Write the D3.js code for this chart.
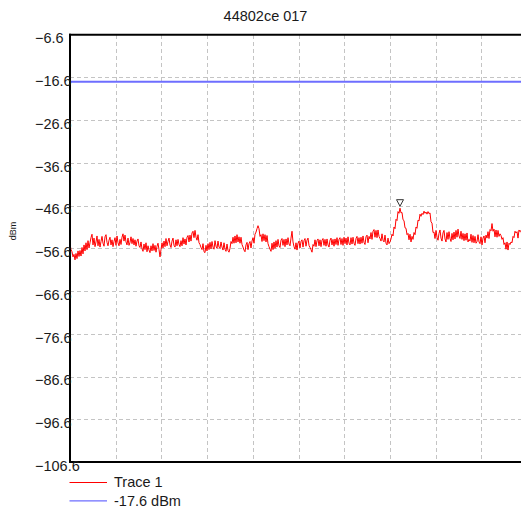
<!DOCTYPE html>
<html>
<head>
<meta charset="utf-8">
<script src="https://cdn.jsdelivr.net/npm/d3@7"></script>
<style>
  html, body { margin: 0; padding: 0; background: #fff; overflow: hidden; }
  svg { display: block; font-family: "Liberation Sans", Arial, sans-serif; }
</style>
</head>
<body>
<svg id="chart" width="521" height="510"></svg>
<script>
// Spectrum trace, one reading per sample bin (dBm)
const traceValues = [
  -55.6, -56.9, -57.4, -58.6, -58.0, -59.3, -57.8, -59.0, -57.2, -58.5,
  -57.1, -58.4, -56.4, -57.9, -55.8, -57.2, -55.3, -56.9, -54.8, -56.5,
  -55.3, -54.1, -53.3, -55.8, -54.2, -56.2, -55.1, -53.7, -56.0, -54.5,
  -56.3, -55.0, -53.8, -55.4, -56.1, -53.9, -53.4, -55.2, -56.0, -54.7,
  -54.0, -55.8, -54.6, -56.2, -55.0, -54.1, -55.9, -53.7, -55.3, -56.0,
  -54.5, -55.7, -54.0, -53.2, -54.9, -53.5, -55.1, -55.8, -54.2, -55.9,
  -55.2, -53.9, -55.5, -54.3, -55.8, -54.6, -56.1, -54.9, -54.4, -56.0,
  -56.4, -55.1, -56.7, -57.3, -55.6, -56.9, -55.3, -57.4, -56.0, -57.0,
  -57.6, -56.0, -57.2, -55.5, -57.1, -55.9, -57.5, -56.1, -55.4, -56.9,
  -58.6, -56.9, -55.3, -56.5, -54.9, -56.2, -54.3, -56.0, -55.0, -54.2,
  -55.8, -56.4, -54.9, -54.2, -55.9, -56.3, -54.6, -56.0, -54.5, -55.7,
  -56.2, -54.8, -56.0, -54.1, -55.6, -54.4, -55.8, -54.0, -53.6, -55.1,
  -53.5, -54.9, -53.0, -52.6, -54.1, -52.4, -54.0, -54.7, -53.4, -55.3,
  -55.7, -56.4, -56.9, -55.5, -57.4, -57.6, -55.9, -57.2, -55.5, -56.9,
  -55.2, -56.7, -55.0, -56.3, -56.8, -54.8, -56.1, -56.6, -54.9, -56.3,
  -56.6, -55.1, -56.3, -57.0, -55.3, -56.8, -57.3, -55.6, -57.1, -57.5,
  -56.6, -55.0, -55.5, -54.0, -55.4, -53.7, -55.3, -53.4, -55.1, -53.9,
  -55.4, -54.0, -55.7, -56.3, -57.0, -57.4, -55.8, -55.2, -56.9, -55.5,
  -55.0, -56.5, -54.9, -54.1, -55.4, -53.3, -52.8, -52.0, -51.3, -52.0,
  -53.8, -53.4, -55.0, -53.2, -54.8, -53.4, -55.1, -53.6, -55.5, -56.2,
  -56.8, -57.3, -55.4, -56.9, -55.1, -56.6, -54.8, -56.3, -54.5, -56.0,
  -56.4, -54.7, -54.3, -55.9, -54.5, -56.2, -54.4, -55.8, -54.1, -55.6,
  -56.0, -54.2, -52.6, -55.1, -56.2, -56.8, -55.3, -57.0, -55.4, -54.9,
  -56.5, -55.0, -54.6, -56.3, -54.8, -54.3, -56.1, -54.7, -54.2, -55.9,
  -56.4, -56.9, -57.5, -55.7, -56.1, -54.6, -56.2, -54.8, -54.4, -56.0,
  -54.6, -56.2, -54.7, -54.3, -55.9, -54.5, -56.1, -54.4, -55.8, -56.3,
  -54.7, -54.2, -55.8, -54.5, -56.1, -54.4, -55.7, -54.1, -55.9, -54.5,
  -54.1, -55.7, -54.3, -55.9, -54.0, -55.5, -54.2, -55.8, -53.9, -55.4,
  -55.8, -54.1, -55.6, -54.0, -55.4, -55.9, -54.3, -53.8, -55.5, -54.1,
  -55.6, -54.0, -55.4, -53.7, -55.2, -55.7, -53.9, -53.5, -55.3, -53.8,
  -54.4, -52.9, -54.5, -52.6, -52.2, -54.0, -52.4, -54.1, -52.3, -53.8,
  -54.3, -54.9, -53.2, -54.7, -55.1, -53.5, -55.4, -55.8, -54.2, -55.5,
  -55.1, -54.4, -53.3, -53.7, -51.6, -52.0, -49.8, -50.1, -48.0, -48.4,
  -47.2, -48.3, -48.2, -49.9, -50.1, -51.8, -51.9, -53.4, -53.1, -54.6,
  -53.3, -55.1, -53.8, -54.5, -52.9, -53.4, -51.6, -51.9, -50.0, -50.2,
  -48.6, -49.1, -48.4, -48.7, -47.9, -48.4, -48.1, -48.6, -48.0, -48.5,
  -48.3, -50.4, -50.7, -52.9, -52.8, -54.3, -52.4, -54.0, -54.7, -53.1,
  -52.3, -54.2, -54.9, -53.0, -52.4, -54.4, -55.1, -52.9, -54.5, -52.7,
  -54.3, -55.0, -53.1, -54.6, -52.8, -54.4, -52.4, -54.0, -52.1, -53.7,
  -54.3, -52.6, -54.5, -53.1, -54.8, -53.2, -54.7, -53.0, -55.1, -54.5,
  -54.9, -53.3, -55.2, -53.6, -55.3, -53.8, -55.4, -55.0, -53.4, -55.1,
  -55.5, -53.9, -55.8, -54.2, -53.7, -55.3, -53.5, -54.2, -52.7, -54.3,
  -52.2, -52.5, -50.8, -52.6, -52.1, -53.9, -52.3, -54.0, -52.4, -53.8,
  -53.2, -53.6, -54.5, -54.1, -55.7, -55.3, -56.8, -55.1, -57.0, -55.4,
  -55.7, -55.1, -55.3, -53.8, -54.1, -52.6, -53.0, -52.7, -54.2, -52.3,
  -52.7, -52.4, -53.9, -52.2, -53.6, -53.0, -53.4
];

// Amplitude axis tick values (dBm)
const yTickValues = [-106.6, -96.6, -86.6, -76.6, -66.6, -56.6, -46.6, -36.6, -26.6, -16.6, -6.6];
const yDomain = [-106.6, -6.6];

// Horizontal divisions of the frequency span
const xDivisions = [0, 1, 2, 3, 4, 5, 6, 7, 8, 9, 10];

// Reference level line and peak marker (bin of the marked peak)
const refLevel = -17.6;
const markerIndex = 330;

const chartTitle = "44802ce 017";
const yLabel = "dBm";
const legendItems = [
  { label: "Trace 1", color: "#ff0000" },
  { label: "-17.6 dBm", color: "#6e6eff" }
];

const svg = d3.select("#chart");
const plotLeft = 70, plotRight = 527, plotTop = 34.7, plotBottom = 462;
const textColor = "#1a1a1a";
const fontSize = 14.5;

const y = d3.scaleLinear().domain(yDomain).range([plotBottom, plotTop]);
const xDiv = d3.scaleLinear().domain([0, 10]).range([plotLeft, plotRight]);
const x = d3.scaleLinear().domain([0, traceValues.length - 1]).range([plotLeft, plotRight - 1]);

// Title
svg.append("text")
  .attr("x", 265.5).attr("y", 20.5)
  .attr("text-anchor", "middle")
  .attr("font-size", fontSize).attr("fill", textColor)
  .text(chartTitle);

// Grid
const grid = svg.append("g").attr("stroke", "#c4c4c4").attr("stroke-width", 1)
  .attr("stroke-dasharray", "4,3").attr("shape-rendering", "crispEdges");
grid.selectAll("line.h").data(yTickValues.slice(1, -1)).enter().append("line")
  .attr("x1", plotLeft).attr("x2", plotRight)
  .attr("y1", d => Math.round(y(d)) + 0.5).attr("y2", d => Math.round(y(d)) + 0.5);
grid.selectAll("line.v").data(xDivisions.slice(1, -1)).enter().append("line")
  .attr("x1", d => Math.round(xDiv(d)) + 0.5).attr("x2", d => Math.round(xDiv(d)) + 0.5)
  .attr("y1", plotTop).attr("y2", plotBottom);

// Reference level
svg.append("line")
  .attr("x1", plotLeft).attr("x2", plotRight)
  .attr("y1", y(refLevel)).attr("y2", y(refLevel))
  .attr("stroke", legendItems[1].color).attr("stroke-width", 2);

// Trace
svg.append("clipPath").attr("id", "plotClip")
  .append("rect").attr("x", plotLeft).attr("y", plotTop)
  .attr("width", plotRight - plotLeft).attr("height", plotBottom - plotTop);
svg.append("path")
  .datum(traceValues)
  .attr("clip-path", "url(#plotClip)")
  .attr("fill", "none")
  .attr("stroke", legendItems[0].color)
  .attr("stroke-width", 1)
  .attr("stroke-linejoin", "round")
  .attr("d", d3.line().x((d, i) => x(i)).y(d => y(d)));

// Peak marker (open downward triangle above the peak)
const mx = x(markerIndex), my = y(traceValues[markerIndex]) - 2;
svg.append("path")
  .attr("d", `M${mx - 3.5},${my - 6.5} L${mx + 3.5},${my - 6.5} L${mx},${my} Z`)
  .attr("fill", "#fff").attr("stroke", "#333").attr("stroke-width", 1);

// Frame (left, top, bottom)
const frame = svg.append("g").attr("stroke", "#000").attr("stroke-width", 2).attr("fill", "none");
frame.append("line").attr("x1", plotLeft).attr("x2", plotLeft).attr("y1", plotTop - 1).attr("y2", plotBottom + 1);
frame.append("line").attr("x1", plotLeft - 1).attr("x2", plotRight).attr("y1", plotTop).attr("y2", plotTop);
frame.append("line").attr("x1", plotLeft - 1).attr("x2", plotRight).attr("y1", plotBottom).attr("y2", plotBottom);

// Y tick labels (left-aligned column)
svg.append("g").selectAll("text").data(yTickValues).enter().append("text")
  .attr("x", 35).attr("y", d => y(d) + 8.7)
  .attr("font-size", fontSize).attr("fill", textColor)
  .text(d => d3.format(".1f")(d));

// Y axis title
svg.append("text")
  .attr("transform", "translate(16,231) rotate(-90)")
  .attr("text-anchor", "middle")
  .attr("font-size", 9).attr("fill", textColor)
  .text(yLabel);

// Legend
const legend = svg.append("g");
legendItems.forEach((item, i) => {
  const ly = 482.5 + i * 18.3;
  legend.append("line")
    .attr("x1", 69.5).attr("x2", 107).attr("y1", ly).attr("y2", ly)
    .attr("stroke", item.color).attr("stroke-width", 1.2);
  legend.append("text")
    .attr("x", 114).attr("y", ly + 4.8)
    .attr("font-size", fontSize).attr("fill", textColor)
    .text(item.label);
});
</script>
</body>
</html>
